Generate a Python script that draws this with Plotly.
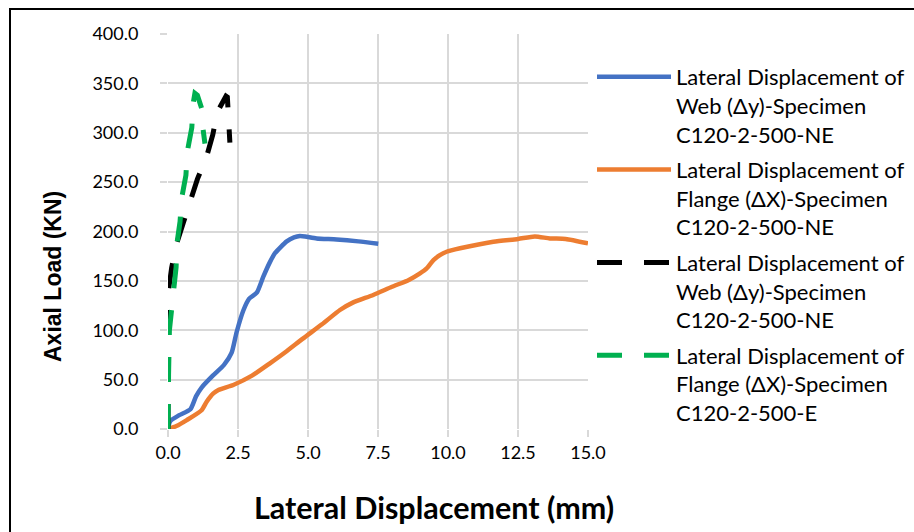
import plotly.graph_objects as go

# ---- data ----
web_ne_x = [0, 0.08, 0.4, 0.8, 1.0, 1.2, 1.6, 2.0, 2.27, 2.45, 2.69, 2.9, 3.17, 3.4, 3.64, 3.82, 4.24, 4.5, 4.71, 4.9, 5.31, 6.02, 6.8, 7.51]
web_ne_y = [0, 8, 14, 20, 33, 42, 54, 65, 77, 98, 120, 132, 138, 154, 169, 178, 190, 194, 195.5, 195, 193, 192, 190, 187.5]

flange_ne_x = [0, 0.3, 0.67, 1.2, 1.38, 1.62, 1.8, 2.33, 3.0, 3.64, 4.2, 4.83, 5.5, 6.14, 6.6, 7.33, 8.0, 8.6, 9.0, 9.24, 9.48, 9.71, 9.95, 10.43, 11.62, 12.5, 13.1, 13.64, 14.2, 15.0]
flange_ne_y = [0, 3, 9, 19, 27.6, 36, 39.5, 44.6, 54, 66.5, 78, 91.8, 106, 120.5, 128, 135.7, 144, 151, 157.7, 162.7, 171, 176, 179.5, 183, 189.7, 192.5, 195, 193, 192.5, 188]

web_e_x = [0, 0.01, 0.03, 0.01, 0.13, 0.29, 0.55, 0.79, 1.05, 1.38, 1.6, 1.76, 2.07, 2.12, 2.15, 2.21]
web_e_y = [0, 40, 100, 139, 163, 186, 209, 232, 253, 276, 298, 321, 337, 336, 312, 290]

flange_e_x = [0, 0, 0.02, 0.05, 0.17, 0.22, 0.29, 0.31, 0.43, 0.49, 0.64, 0.69, 0.85, 0.9, 0.96, 1.05, 1.15, 1.2, 1.25, 1.32]
flange_e_y = [0, 24, 55, 100, 128, 145, 164, 186, 210, 234, 257, 281, 305, 330, 340, 338, 330, 325, 304, 289]

names = [
    "Lateral Displacement of<br>Web (\u0394y)-Specimen<br>C120-2-500-NE",
    "Lateral Displacement of<br>Flange (\u0394X)-Specimen<br>C120-2-500-NE",
    "Lateral Displacement of<br>Web (\u0394y)-Specimen<br>C120-2-500-NE",
    "Lateral Displacement of<br>Flange (\u0394X)-Specimen<br>C120-2-500-E",
]

x_ticks = [0, 2.5, 5, 7.5, 10, 12.5, 15]
y_ticks = [0, 50, 100, 150, 200, 250, 300, 350, 400]

FONT = "Lato"
W = 4.5
DASH = "25px,22px"

fig = go.Figure()
fig.add_trace(go.Scatter(x=web_ne_x, y=web_ne_y, mode="lines", name=names[0], legendgroup="a",
                         line=dict(color="#4472C4", width=W, shape="spline", smoothing=0.6)))
fig.add_trace(go.Scatter(x=flange_ne_x, y=flange_ne_y, mode="lines", name=names[1], legendgroup="b",
                         line=dict(color="#ED7D31", width=W, shape="spline", smoothing=0.6)))
fig.add_trace(go.Scatter(x=web_e_x, y=web_e_y, mode="lines", name=names[2], legendgroup="c",
                         line=dict(color="#000000", width=W + 0.5, dash=DASH)))
fig.add_trace(go.Scatter(x=flange_e_x, y=flange_e_y, mode="lines", name=names[3], legendgroup="d",
                         line=dict(color="#00B050", width=W + 0.5, dash=DASH)))

# figure is a bit wider than the window so the legend never pushes the margins
FIG_W, FIG_H = 950, 532
# plot area: x 168..588, y 34..429
L, R, T, B = 168, FIG_W - 588, 34, FIG_H - 429
pw, ph = 588 - 168, 429 - 34

def px(xp):
    return (xp - L) / pw

def py(yp):
    return (429 - yp) / ph

fig.update_layout(
    width=FIG_W, height=FIG_H,
    margin=dict(l=L, r=R, t=T, b=B, pad=0),
    paper_bgcolor="white", plot_bgcolor="white",
    font=dict(family=FONT, color="#000000"),
    showlegend=True,
    legend=dict(x=px(592), y=py(56), xanchor="left", yanchor="top",
                font=dict(size=22, family=FONT, color="#000000"),
                valign="top", bgcolor="rgba(0,0,0,0)", itemwidth=74,
                traceorder="grouped", tracegroupgap=4),
    xaxis=dict(range=[0, 15], tickvals=x_ticks, ticktext=[f"{v:.1f}" for v in x_ticks],
               showgrid=True, gridcolor="#d9d9d9", gridwidth=1.5,
               ticks="outside", ticklen=7, tickcolor="#d9d9d9", tickwidth=1.5,
               tickfont=dict(size=18, family=FONT, color="#000000"),
               zeroline=False, showline=False, fixedrange=True),
    yaxis=dict(range=[0, 400], tickvals=y_ticks, ticktext=[f"{v:.1f}" for v in y_ticks],
               showgrid=True, gridcolor="#d9d9d9", gridwidth=1.5,
               ticks="outside", ticklen=7, tickcolor="#d9d9d9", tickwidth=1.5,
               tickfont=dict(size=18, family=FONT, color="#000000"),
               ticklabelstandoff=18,
               zeroline=False, showline=False, fixedrange=True),
    annotations=[
        dict(text="<b>Lateral Displacement (mm)</b>", x=px(434), y=py(507),
             xref="paper", yref="paper", showarrow=False,
             font=dict(size=30.5, family=FONT, color="#000000"), xanchor="center", yanchor="middle"),
        dict(text="<b>Axial Load (KN)</b>", x=px(53), y=py(276),
             xref="paper", yref="paper", showarrow=False, textangle=-90,
             font=dict(size=23, family="Liberation Sans", color="#000000"),
             xanchor="center", yanchor="middle"),
    ],
    shapes=[
        dict(type="rect", xref="paper", yref="paper",
             x0=px(10), x1=px(FIG_W + 20), y0=py(9), y1=py(FIG_H + 30),
             line=dict(color="#000000", width=2), fillcolor="rgba(0,0,0,0)", layer="above"),
    ],
)

fig.write_html(
    "out.html",
    config={"displayModeBar": False},
    post_script="document.body.style.margin='0px';document.body.style.overflow='hidden';",
)
